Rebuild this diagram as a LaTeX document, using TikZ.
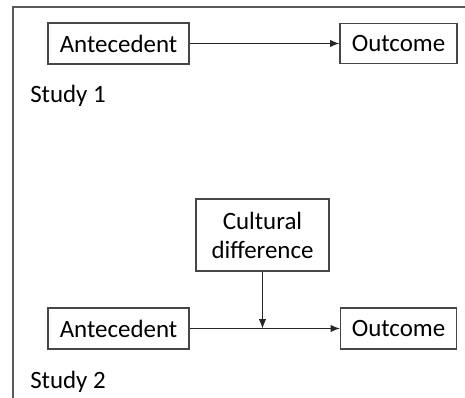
\documentclass[tikz,border=0pt]{standalone}
\usepackage{fontspec}
\setmainfont{Carlito}
\usepackage{xcolor}
\usepackage{tikz}
\usetikzlibrary{arrows.meta,calc,positioning}
\definecolor{boxline}{RGB}{70,70,70}
\definecolor{frameline}{RGB}{90,90,90}

\begin{document}
\begin{tikzpicture}[x=0.75pt,y=-0.75pt,
  varbox/.style={draw=boxline,line width=0.9pt,inner sep=0pt,align=center,
    font=\fontsize{18.7}{21.75}\selectfont},
  studylabel/.style={anchor=base west,inner sep=0pt,font=\fontsize{18.7}{21.75}\selectfont},
  link/.style={draw=black!85,line width=0.8pt,-{Latex[length=7pt,width=5.5pt]}}]
  \useasboundingbox (0,0) rectangle (465,398);
  \draw[frameline,line width=0.9pt] (13,398) -- (13,7) -- (465,7);
  % study 1
  \node[varbox,minimum width=141*0.75pt,minimum height=41*0.75pt] (ante1) at (118.5,43.5) {Antecedent};
  \node[varbox,minimum width=117*0.75pt,minimum height=40*0.75pt] (out1) at (398.5,43.5) {Outcome};
  \node[studylabel] (study1) at (30,103) {Study 1};
  \draw[link] (ante1) -- (out1);
  % study 2
  \node[varbox,minimum width=133*0.75pt,minimum height=72*0.75pt] (cult) at (262.5,235) {Cultural\\difference};
  \node[varbox,minimum width=141*0.75pt,minimum height=41*0.75pt] (ante2) at (118.5,328.5) {Antecedent};
  \node[varbox,minimum width=116*0.75pt,minimum height=41*0.75pt] (out2) at (398.5,328.5) {Outcome};
  \node[studylabel] (study2) at (30,389) {Study 2};
  \coordinate (meet) at (cult.south |- ante2.east);
  \draw[link] (ante2) -- (out2);
  \draw[link] (cult) -- (meet);
\end{tikzpicture}
\end{document}
